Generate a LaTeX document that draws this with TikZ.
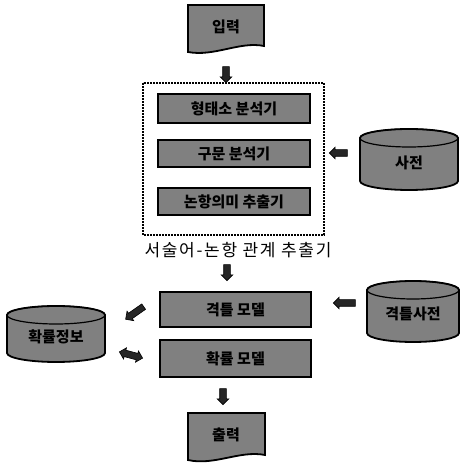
\documentclass[tikz,border=0pt]{standalone}
\usepackage{fontspec}
\setmainfont{Noto Sans CJK KR}
\usetikzlibrary{shapes.arrows}
\tikzset{
  grayfill/.style={fill=black!50, draw=black, line width=1.8pt},
  lbl/.style={font=\fontsize{15}{15}\selectfont\bfseries, text=black},
  procbox/.style={grayfill, lbl, minimum width=152pt, inner sep=0pt},
  blockarrow/.style={single arrow, fill=black!85, draw=black, line width=0.6pt,
    minimum height=16pt, inner sep=3pt, single arrow head extend=2.5pt},
  dblarrow/.style={double arrow, fill=black!85, draw=black, line width=0.6pt,
    minimum height=24pt, inner sep=3pt, double arrow head extend=2.5pt},
  groupbox/.style={draw=black, line width=1.8pt, dash pattern=on 1.6pt off 1.4pt},
}
\begin{document}
\begin{tikzpicture}[x=1pt,y=1pt]
\useasboundingbox (0,0) rectangle (461,464);

% input document
\draw[grayfill] (188,459) -- (264,459) -- (264,418) .. controls (240,423) and (214,407) .. (188,412) -- cycle;
\node[lbl] (in) at (226,437) {입력};

% arrow down 1
\node[blockarrow, rotate=-90] (a1) at (226,391) {};

% group box
\draw[groupbox] (143,381) rectangle (324,229);
\node[procbox, minimum height=29pt] (morph) at (234,355.5) {형태소 분석기};
\node[procbox, minimum height=27pt] (parse) at (234,310.5) {구문 분석기};
\node[procbox, minimum height=27pt] (sem) at (234,262.5) {논항의미 추출기};
\node[font=\fontsize{17}{17}\selectfont\addfontfeature{LetterSpace=10}] (grouplbl) at (238,214) {서술어-논항 관계 추출기};

% dictionary cylinder
\draw[grayfill] (360,326) -- (360,283) arc[start angle=180,end angle=360,x radius=49,y radius=9] -- (458,326) arc[start angle=0,end angle=180,x radius=49,y radius=9] -- cycle;
\draw[black, line width=1.2pt] (409,326) ellipse[x radius=49, y radius=9];
\node[lbl] (dict) at (409,301) {사전};
\node[blockarrow, rotate=180, minimum height=18pt] (a2) at (340,311) {};

% arrow down 2
\node[blockarrow, rotate=-90] (a3) at (227,193) {};

% models
\node[procbox, minimum width=151pt, minimum height=35pt] (cfmodel) at (235.5,154.5) {격틀 모델};
\node[procbox, minimum width=151pt, minimum height=37pt] (pmodel) at (235.5,105.5) {확률 모델};

% case frame dictionary cylinder
\draw[grayfill] (367,174) -- (367,131) arc[start angle=180,end angle=360,x radius=46,y radius=9] -- (459,174) arc[start angle=0,end angle=180,x radius=46,y radius=9] -- cycle;
\draw[black, line width=1.2pt] (413,174) ellipse[x radius=46, y radius=9];
\node[lbl] (cfdict) at (413,150) {격틀사전};
\node[blockarrow, rotate=180, minimum height=22pt] (a4) at (346,161) {};

% probability info cylinder
\draw[grayfill] (7,149) -- (7,111) arc[start angle=180,end angle=360,x radius=49,y radius=9] -- (105,149) arc[start angle=0,end angle=180,x radius=49,y radius=9] -- cycle;
\draw[black, line width=1.2pt] (56,149) ellipse[x radius=49, y radius=9];
\node[lbl] (pinfo) at (56,127) {확률정보};
\node[blockarrow, rotate=215, minimum height=22pt] (a5) at (136,152) {};
\node[dblarrow, rotate=-15] (a6) at (131,109) {};

% arrow down 3
\node[blockarrow, rotate=-90] (a7) at (223,69) {};

% output document
\draw[grayfill] (188,51) -- (265,51) -- (265,9) .. controls (240,14) and (214,-2) .. (188,4) -- cycle;
\node[lbl] (out) at (226,29) {출력};
\end{tikzpicture}
\end{document}
